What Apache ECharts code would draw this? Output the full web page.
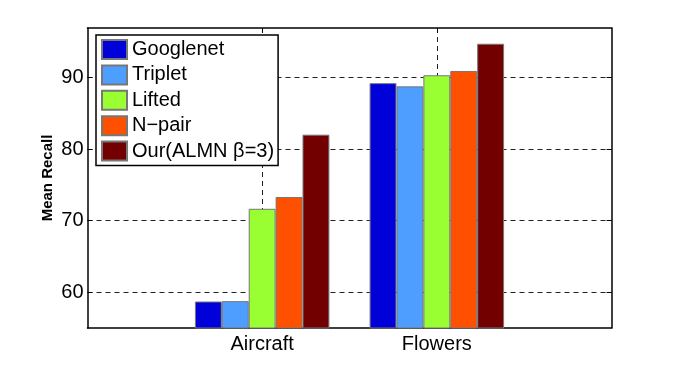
<!DOCTYPE html>
<html lang="en">
<head>
    <meta charset="UTF-8">
    <title>Mean Recall</title>
    <style>
        html, body { margin: 0; padding: 0; background: #fff; }
    </style>
</head>
<body>
<div id="main" style="width: 675px;height:370px;"></div>
<script src="https://cdn.jsdelivr.net/npm/echarts@6/dist/echarts.min.js"></script>
<script>
    // data
    var categories = ['Aircraft', 'Flowers'];
    var seriesNames = ['Googlenet', 'Triplet', 'Lifted', 'N\u2212pair', 'Our(ALMN \u03b2=3)'];
    var googlenet = [58.7, 89.2];
    var triplet = [58.75, 88.75];
    var lifted = [71.65, 90.3];
    var npair = [73.3, 90.9];
    var ours = [82.0, 94.7];
    var yTicks = [60, 70, 80, 90];

    var colors = ['#0000d8', '#4d9eff', '#99ff33', '#ff5000', '#730000'];
    var values = [googlenet, triplet, lifted, npair, ours];

    // xlim [0,3]: empty slots at both ends
    var xData = [''].concat(categories).concat(['']);
    var font = '"Liberation Sans", Arial, Helvetica, sans-serif';

    var app = echarts.init(document.getElementById('main'));
    var option = {
        animation: false,
        backgroundColor: '#fff',
        grid: {
            left: 87.5,
            top: 28,
            width: 524,
            height: 300,
            containLabel: false
        },
        legend: {
            orient: 'vertical',
            left: 96,
            top: 35,
            padding: [4, 4, 4, 5],
            itemWidth: 25,
            itemHeight: 19,
            itemGap: 4.4,
            icon: 'rect',
            backgroundColor: '#fff',
            borderColor: '#000',
            borderWidth: 1.5,
            z: 10,
            textStyle: {
                fontFamily: font,
                fontSize: 20,
                color: '#000',
                lineHeight: 20
            },
            data: seriesNames
        },
        xAxis: [
            {
                type: 'category',
                position: 'bottom',
                data: xData,
                boundaryGap: false,
                axisLine: {lineStyle: {color: '#000', width: 1.5}},
                axisTick: {show: false},
                axisLabel: {
                    interval: 0,
                    margin: 6,
                    color: '#000',
                    fontFamily: font,
                    fontSize: 20
                },
                splitLine: {
                    show: true,
                    interval: function (index) {
                        return index === 1 || index === 2;
                    },
                    lineStyle: {color: '#222', width: 1, type: [5, 4]}
                }
            },
            {
                type: 'category',
                position: 'top',
                data: xData,
                boundaryGap: false,
                axisLine: {lineStyle: {color: '#000', width: 1.5}},
                axisTick: {
                    show: true,
                    inside: true,
                    length: 5,
                    interval: function (index) {
                        return index === 1 || index === 2;
                    },
                    lineStyle: {color: '#000', width: 1}
                },
                axisLabel: {show: false},
                splitLine: {show: false}
            }
        ],
        yAxis: [
            {
                type: 'value',
                position: 'left',
                min: 55,
                max: 96.9,
                name: 'Mean Recall',
                nameLocation: 'middle',
                nameGap: 32,
                nameRotate: 90,
                nameMoveOverlap: false,
                nameTextStyle: {
                    fontFamily: font,
                    fontSize: 15,
                    fontWeight: 'bold',
                    color: '#000'
                },
                axisLine: {show: true, lineStyle: {color: '#000', width: 1.5}},
                axisTick: {
                    show: true,
                    inside: true,
                    length: 5,
                    customValues: yTicks,
                    lineStyle: {color: '#000', width: 1}
                },
                axisLabel: {
                    customValues: yTicks,
                    margin: 4,
                    color: '#000',
                    fontFamily: font,
                    fontSize: 20
                },
                splitLine: {
                    show: true,
                    lineStyle: {color: '#222', width: 1, type: [5, 4]}
                }
            },
            {
                type: 'value',
                position: 'right',
                min: 55,
                max: 96.9,
                axisLine: {show: true, lineStyle: {color: '#000', width: 1.5}},
                axisTick: {
                    show: true,
                    inside: true,
                    length: 5,
                    customValues: yTicks,
                    lineStyle: {color: '#000', width: 1}
                },
                axisLabel: {show: false},
                splitLine: {show: false}
            }
        ],
        series: function () {
            var serie = [];
            for (var i = 0; i < seriesNames.length; i++) {
                serie.push({
                    name: seriesNames[i],
                    type: 'bar',
                    xAxisIndex: 0,
                    yAxisIndex: 0,
                    barGap: '0%',
                    barCategoryGap: '23%',
                    clip: true,
                    itemStyle: {
                        color: colors[i],
                        borderColor: '#777',
                        borderWidth: 1
                    },
                    data: ['-'].concat(values[i]).concat(['-'])
                });
            }
            return serie;
        }()
    };
    app.setOption(option);
</script>
</body>
</html>
